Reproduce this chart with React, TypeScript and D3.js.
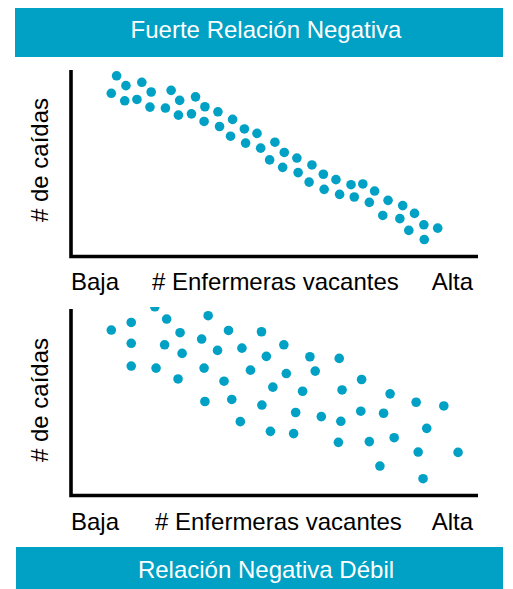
import { scaleLinear } from "d3";

const WIDTH = 513;
const HEIGHT = 589;
const TEAL = "#00a1c4";
const FONT = "'Liberation Sans', Arial, sans-serif";

const TITLE_TOP = "Fuerte Relación Negativa";
const TITLE_BOTTOM = "Relación Negativa Débil";
const Y_LABEL = "# de caídas";
const X_LABEL = "# Enfermeras vacantes";
const X_LOW = "Baja";
const X_HIGH = "Alta";

// strong negative relation (x, y in 0..100)
const strongX = [11.2, 13.5, 17.4, 9.9, 13.2, 16.2, 19.7, 19.4, 24.6, 26.7, 23.2, 26.4, 29.6, 30.6, 32.9, 36.1, 32.7, 36.5, 39.7, 39.2, 42.6, 45.7, 42.9, 46.6, 50.1, 52.4, 48.8, 52.0, 55.5, 55.8, 59.2, 58.5, 62.0, 62.2, 65.1, 66.0, 68.8, 71.7, 69.6, 74.6, 73.3, 77.9, 76.6, 81.5, 84.4, 80.8, 83.0, 86.7, 90.1, 86.8];
const strongY = [96.9, 91.6, 93.4, 87.5, 83.5, 84.2, 88.2, 80.1, 89.1, 83.7, 79.6, 75.8, 76.5, 85.6, 80.3, 77.6, 72.4, 69.7, 73.5, 64.5, 68.4, 66.0, 60.8, 58.1, 61.3, 55.8, 51.8, 47.8, 52.8, 45.0, 49.1, 39.9, 44.1, 36.0, 41.2, 33.3, 38.5, 38.9, 31.9, 35.1, 29.0, 30.1, 22.0, 27.3, 23.1, 20.3, 14.0, 17.0, 15.2, 9.1];

// weak negative relation
const weakX = [20.6, 9.9, 14.8, 23.5, 33.7, 14.8, 26.8, 23.0, 27.3, 14.8, 20.9, 26.3, 32.1, 38.7, 36.0, 32.7, 42.0, 46.8, 48.0, 37.6, 44.1, 32.9, 39.5, 52.3, 52.9, 49.6, 46.9, 41.6, 49.0, 54.7, 55.2, 56.9, 58.7, 60.0, 61.5, 65.9, 66.6, 66.3, 65.7, 71.4, 71.2, 73.3, 75.9, 76.8, 78.4, 79.4, 84.8, 87.4, 85.3, 86.5, 91.6, 95.1];
const weakY = [101.2, 88.7, 92.8, 94.6, 96.4, 81.6, 87.3, 80.8, 76.2, 69.4, 68.3, 62.5, 83.9, 88.5, 77.8, 68.3, 79.0, 87.8, 74.6, 61.3, 67.2, 50.4, 51.5, 80.8, 65.4, 58.1, 48.5, 39.6, 34.4, 33.2, 44.5, 55.9, 74.4, 66.7, 42.3, 73.5, 56.6, 39.8, 28.5, 62.2, 45.2, 28.9, 15.8, 44.1, 54.5, 31.0, 50.0, 36.0, 23.3, 9.0, 48.0, 23.1];

type PanelProps = {
  id: string;
  top: number;
  bottom: number;
  xs: number[];
  ys: number[];
  clipTop: number;
  labelY: number;
  labelMid: number;
  labelX: number;
};

function Panel({ id, top, bottom, xs, ys, clipTop, labelY, labelMid, labelX }: PanelProps) {
  const left = 71;
  const right = 478;
  const x = scaleLinear().domain([0, 100]).range([left, right]);
  const y = scaleLinear().domain([0, 100]).range([bottom, top]);

  return (
    <g>
      <clipPath id={id}>
        <rect x={left} y={clipTop} width={right - left} height={bottom - clipTop} />
      </clipPath>
      <g clipPath={`url(#${id})`}>
        {xs.map((d, i) => (
          <circle key={i} cx={x(d)} cy={y(ys[i])} r={4.8} fill={TEAL} />
        ))}
      </g>
      <path
        d={`M${left},${top} V${bottom} H${right}`}
        fill="none"
        stroke="#000"
        strokeWidth={3.6}
      />
      <text
        transform={`translate(48,${labelMid}) rotate(-90)`}
        textAnchor="middle"
        fontSize={24}
        fontFamily={FONT}
        fill="#000"
      >
        {Y_LABEL}
      </text>
      <g fontSize={24} fontFamily={FONT} fill="#000">
        <text x={71} y={labelY}>{X_LOW}</text>
        <text x={labelX} y={labelY}>{X_LABEL}</text>
        <text x={473} y={labelY} textAnchor="end">{X_HIGH}</text>
      </g>
    </g>
  );
}

export default function App() {
  return (
    <svg
      width={WIDTH}
      height={HEIGHT}
      viewBox={`0 0 ${WIDTH} ${HEIGHT}`}
      style={{ position: "absolute", left: 0, top: 0, background: "#fff" }}
    >
      <rect x={15} y={8} width={488} height={49} fill={TEAL} />
      <text x={266} y={37.5} textAnchor="middle" fontSize={24} fontFamily={FONT} fill="#fff">
        {TITLE_TOP}
      </text>

      <Panel id="clip-top" top={70} bottom={256.5} xs={strongX} ys={strongY} clipTop={60} labelY={290} labelMid={160} labelX={152} />
      <Panel id="clip-bottom" top={309} bottom={495.5} xs={weakX} ys={weakY} clipTop={307} labelY={530} labelMid={400} labelX={155} />

      <rect x={16} y={547} width={487} height={42} fill={TEAL} />
      <text x={266} y={578} textAnchor="middle" fontSize={24} fontFamily={FONT} fill="#fff">
        {TITLE_BOTTOM}
      </text>
    </svg>
  );
}
